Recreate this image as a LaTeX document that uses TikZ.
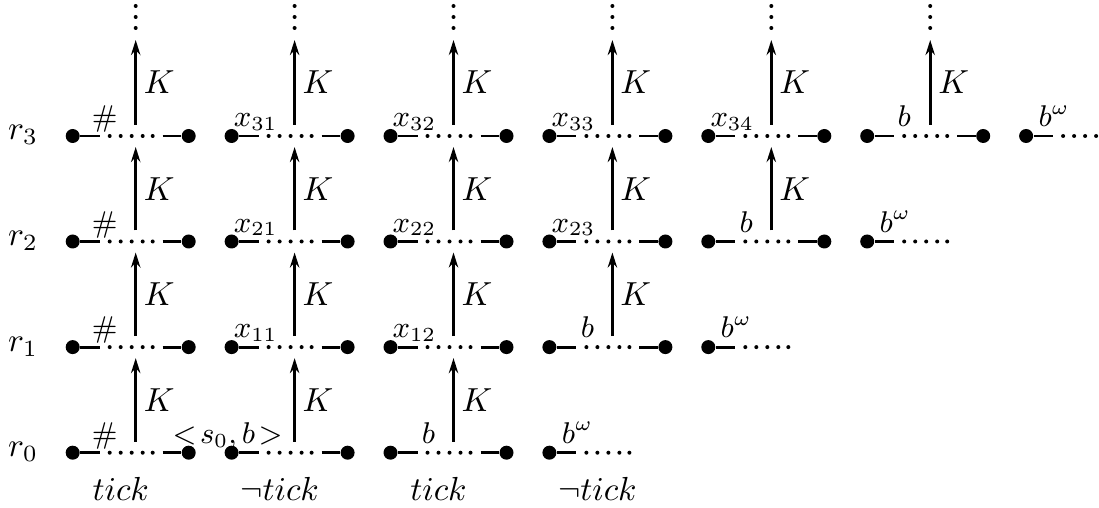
\documentclass[tikz,border=0pt]{standalone}
\usetikzlibrary{arrows.meta}
\begin{document}
\begin{tikzpicture}[x=0.3pt,y=-0.3pt,
  state/.style={circle,fill,inner sep=0pt,minimum size=4.2pt},
  seg/.style={line width=0.85pt},
  karrow/.style={line width=0.85pt,-{Stealth[length=4.5pt,width=2.8pt]}},
  klabel/.style={anchor=west,inner sep=0pt,xshift=2pt},
  lbl/.style={anchor=base,inner sep=0pt,font=\small},
  rowlbl/.style={anchor=base,inner sep=0pt},
  ticklbl/.style={anchor=base,inner sep=0pt}]
\useasboundingbox (0,0) rectangle (1099,508);

% one row per run r_i: full segments, then a half segment going on forever
\foreach \r/\y/\n in {0/452.7/3,1/347.1/4,2/241.5/5,3/136/6}{
  \node[rowlbl] (r\r) at (23,\y+4) {$r_\r$};
  \foreach \c in {1,...,\n}{
    \pgfmathsetmacro\lx{72.7+158.9*(\c-1)}
    \node[state] (L\r-\c) at (\lx,\y) {};
    \node[state] (R\r-\c) at (\lx+116,\y) {};
    \coordinate (a\r-\c) at (\lx+27,\y);
    \coordinate (b\r-\c) at (\lx+90,\y);
    \coordinate (f\r-\c) at (\lx+63,\y-11);
    \coordinate (t\r-\c) at (\lx+63,\y+11);
    \draw[seg] (L\r-\c) -- (a\r-\c);
    \draw[seg] (b\r-\c) -- (R\r-\c);
    \foreach \d in {37,48,59,70,80} \fill (\lx+\d,\y) circle (0.6pt);
  }
  \pgfmathtruncatemacro\h{\n+1}
  \pgfmathsetmacro\lx{72.7+158.9*\n}
  \node[state] (L\r-\h) at (\lx,\y) {};
  \coordinate (a\r-\h) at (\lx+27,\y);
  \draw[seg] (L\r-\h) -- (a\r-\h);
  \foreach \d in {37,48,59,70,80} \fill (\lx+\d,\y) circle (0.6pt);
}

% knowledge steps between consecutive runs
\foreach \r/\rr/\n in {0/1/3,1/2/4,2/3/5}{
  \foreach \c in {1,...,\n}
    \draw[karrow] (f\r-\c) -- node[klabel] {$K$} (t\rr-\c);
}
\foreach \c in {1,...,6}{
  \pgfmathsetmacro\lx{72.7+158.9*(\c-1)}
  \coordinate (top\c) at (\lx+63,40);
  \draw[karrow] (f3-\c) -- node[klabel] {$K$} (top\c);
  \foreach \d in {6,17,28} \fill (\lx+63,\d) circle (0.6pt);
}

% segment labels
\foreach \c/\t/\o in {1/{\#}/32,2/{x_{31}}/24,3/{x_{32}}/24,4/{x_{33}}/24,5/{x_{34}}/24,6/b/37,7/{b^\omega}/28}
  \node[lbl] (lab3-\c) at ({72.7+158.9*(\c-1)+\o},127) {$\t$};
\foreach \c/\t/\o in {1/{\#}/32,2/{x_{21}}/24,3/{x_{22}}/24,4/{x_{23}}/24,5/b/38,6/{b^\omega}/28}
  \node[lbl] (lab2-\c) at ({72.7+158.9*(\c-1)+\o},232.5) {$\t$};
\foreach \c/\t/\o in {1/{\#}/32,2/{x_{11}}/24,3/{x_{12}}/24,4/b/38,5/{b^\omega}/28}
  \node[lbl] (lab1-\c) at ({72.7+158.9*(\c-1)+\o},338) {$\t$};
\foreach \c/\t/\o in {1/{\#}/32,2/{<\!s_0,b\!>}/-4,3/b/38,4/{b^\omega}/28}
  \node[lbl] (lab0-\c) at ({72.7+158.9*(\c-1)+\o},443.7) {$\t$};

% clock values under the bottom run
\foreach \c/\t in {1/{tick},2/{\neg tick},3/{tick},4/{\neg tick}}
  \node[ticklbl] (tick\c) at ({72.7+158.9*(\c-1)+48},500.5) {$\t$};
\end{tikzpicture}
\end{document}
